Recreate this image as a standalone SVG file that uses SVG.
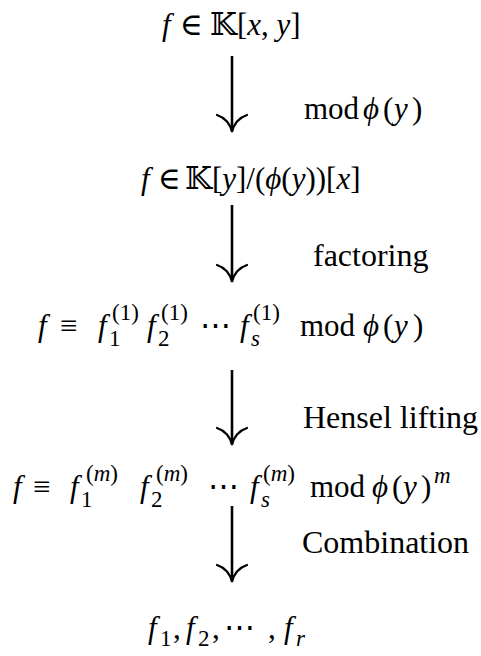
<svg xmlns="http://www.w3.org/2000/svg" width="481" height="656" viewBox="0 0 481 656">
<style>
text{font-family:"Liberation Serif","DejaVu Serif",serif;fill:#000}
.m{font-size:31px}
.l{font-size:32px}
.i{font-style:italic}
.s{font-size:23px}
.bb{font-family:"DejaVu Serif","DejaVu Sans",serif}
.arr{fill:none;stroke:#000;stroke-width:2.6}
.hd{fill:none;stroke:#000;stroke-width:2.2;stroke-linecap:round}
</style>
<rect width="481" height="656" fill="#fff"/>
<g id="connectors">
<line class="arr" x1="232" y1="56" x2="232" y2="130"/>
<path class="hd" d="M217 115 Q229 119 232 132 Q235 119 247 115"/>
<line class="arr" x1="232" y1="205" x2="232" y2="280"/>
<path class="hd" d="M217 265 Q229 269 232 282 Q235 269 247 265"/>
<line class="arr" x1="232" y1="370" x2="232" y2="443"/>
<path class="hd" d="M217 428 Q229 432 232 445 Q235 432 247 428"/>
<line class="arr" x1="232" y1="506" x2="232" y2="580"/>
<path class="hd" d="M217 565 Q229 569 232 582 Q235 569 247 565"/>
<text class="m" x="304" y="119">mod<tspan class="i" x="363">ϕ</tspan><tspan x="383">(</tspan><tspan class="i" x="394">y</tspan><tspan x="412">)</tspan></text>
<text class="l" x="313" y="266">factoring</text>
<text class="l" x="303" y="428">Hensel lifting</text>
<text class="l" x="302" y="553">Combination</text>
</g>
<g id="n1">
<text class="m" y="35"><tspan x="162" class="i">f</tspan><tspan x="180">∈</tspan><tspan x="210" class="bb">𝕂</tspan>[<tspan class="i">x</tspan>, <tspan class="i">y</tspan>]</text>
</g>
<g id="n2">
<text class="m" y="189"><tspan x="141" class="i">f</tspan><tspan x="158">∈</tspan><tspan x="185" class="bb">𝕂</tspan>[<tspan class="i">y</tspan>]/(<tspan class="i">ϕ</tspan>(<tspan class="i">y</tspan>))[<tspan class="i">x</tspan>]</text>
</g>
<g id="n3">
<text class="m" y="336"><tspan x="38" class="i">f</tspan><tspan x="60">≡</tspan><tspan x="98" class="i">f</tspan><tspan x="147" class="i">f</tspan><tspan x="200">⋯</tspan><tspan x="240" class="i">f</tspan><tspan x="300">mod</tspan><tspan x="363" class="i">ϕ</tspan><tspan x="383">(</tspan><tspan x="394" class="i">y</tspan><tspan x="413">)</tspan></text>
<text class="s"><tspan x="109" y="346">1</tspan><tspan x="112" y="320">(1)</tspan><tspan x="158" y="346">2</tspan><tspan x="161" y="320">(1)</tspan><tspan x="251" y="346" class="i">s</tspan><tspan x="253" y="320">(1)</tspan></text>
</g>
<g id="n4">
<text class="m" y="497"><tspan x="13" class="i">f</tspan><tspan x="33">≡</tspan><tspan x="70" class="i">f</tspan><tspan x="140" class="i">f</tspan><tspan x="208">⋯</tspan><tspan x="250" class="i">f</tspan><tspan x="310">mod</tspan><tspan x="372" class="i">ϕ</tspan><tspan x="392">(</tspan><tspan x="403" class="i">y</tspan><tspan x="421">)</tspan></text>
<text class="s"><tspan x="81" y="507">1</tspan><tspan x="86" y="481">(<tspan class="i">m</tspan>)</tspan><tspan x="151" y="507">2</tspan><tspan x="156" y="481">(<tspan class="i">m</tspan>)</tspan><tspan x="261" y="507" class="i">s</tspan><tspan x="263" y="481">(<tspan class="i">m</tspan>)</tspan><tspan x="434" y="483" class="i">m</tspan></text>
</g>
<g id="n5">
<text class="m" y="638"><tspan x="148" class="i">f</tspan><tspan x="173">,</tspan><tspan x="186" class="i">f</tspan><tspan x="212">,</tspan><tspan x="224">⋯</tspan><tspan x="268">,</tspan><tspan x="284" class="i">f</tspan></text>
<text class="s" y="646"><tspan x="160">1</tspan><tspan x="198">2</tspan><tspan x="296" class="i">r</tspan></text>
</g>
</svg>
